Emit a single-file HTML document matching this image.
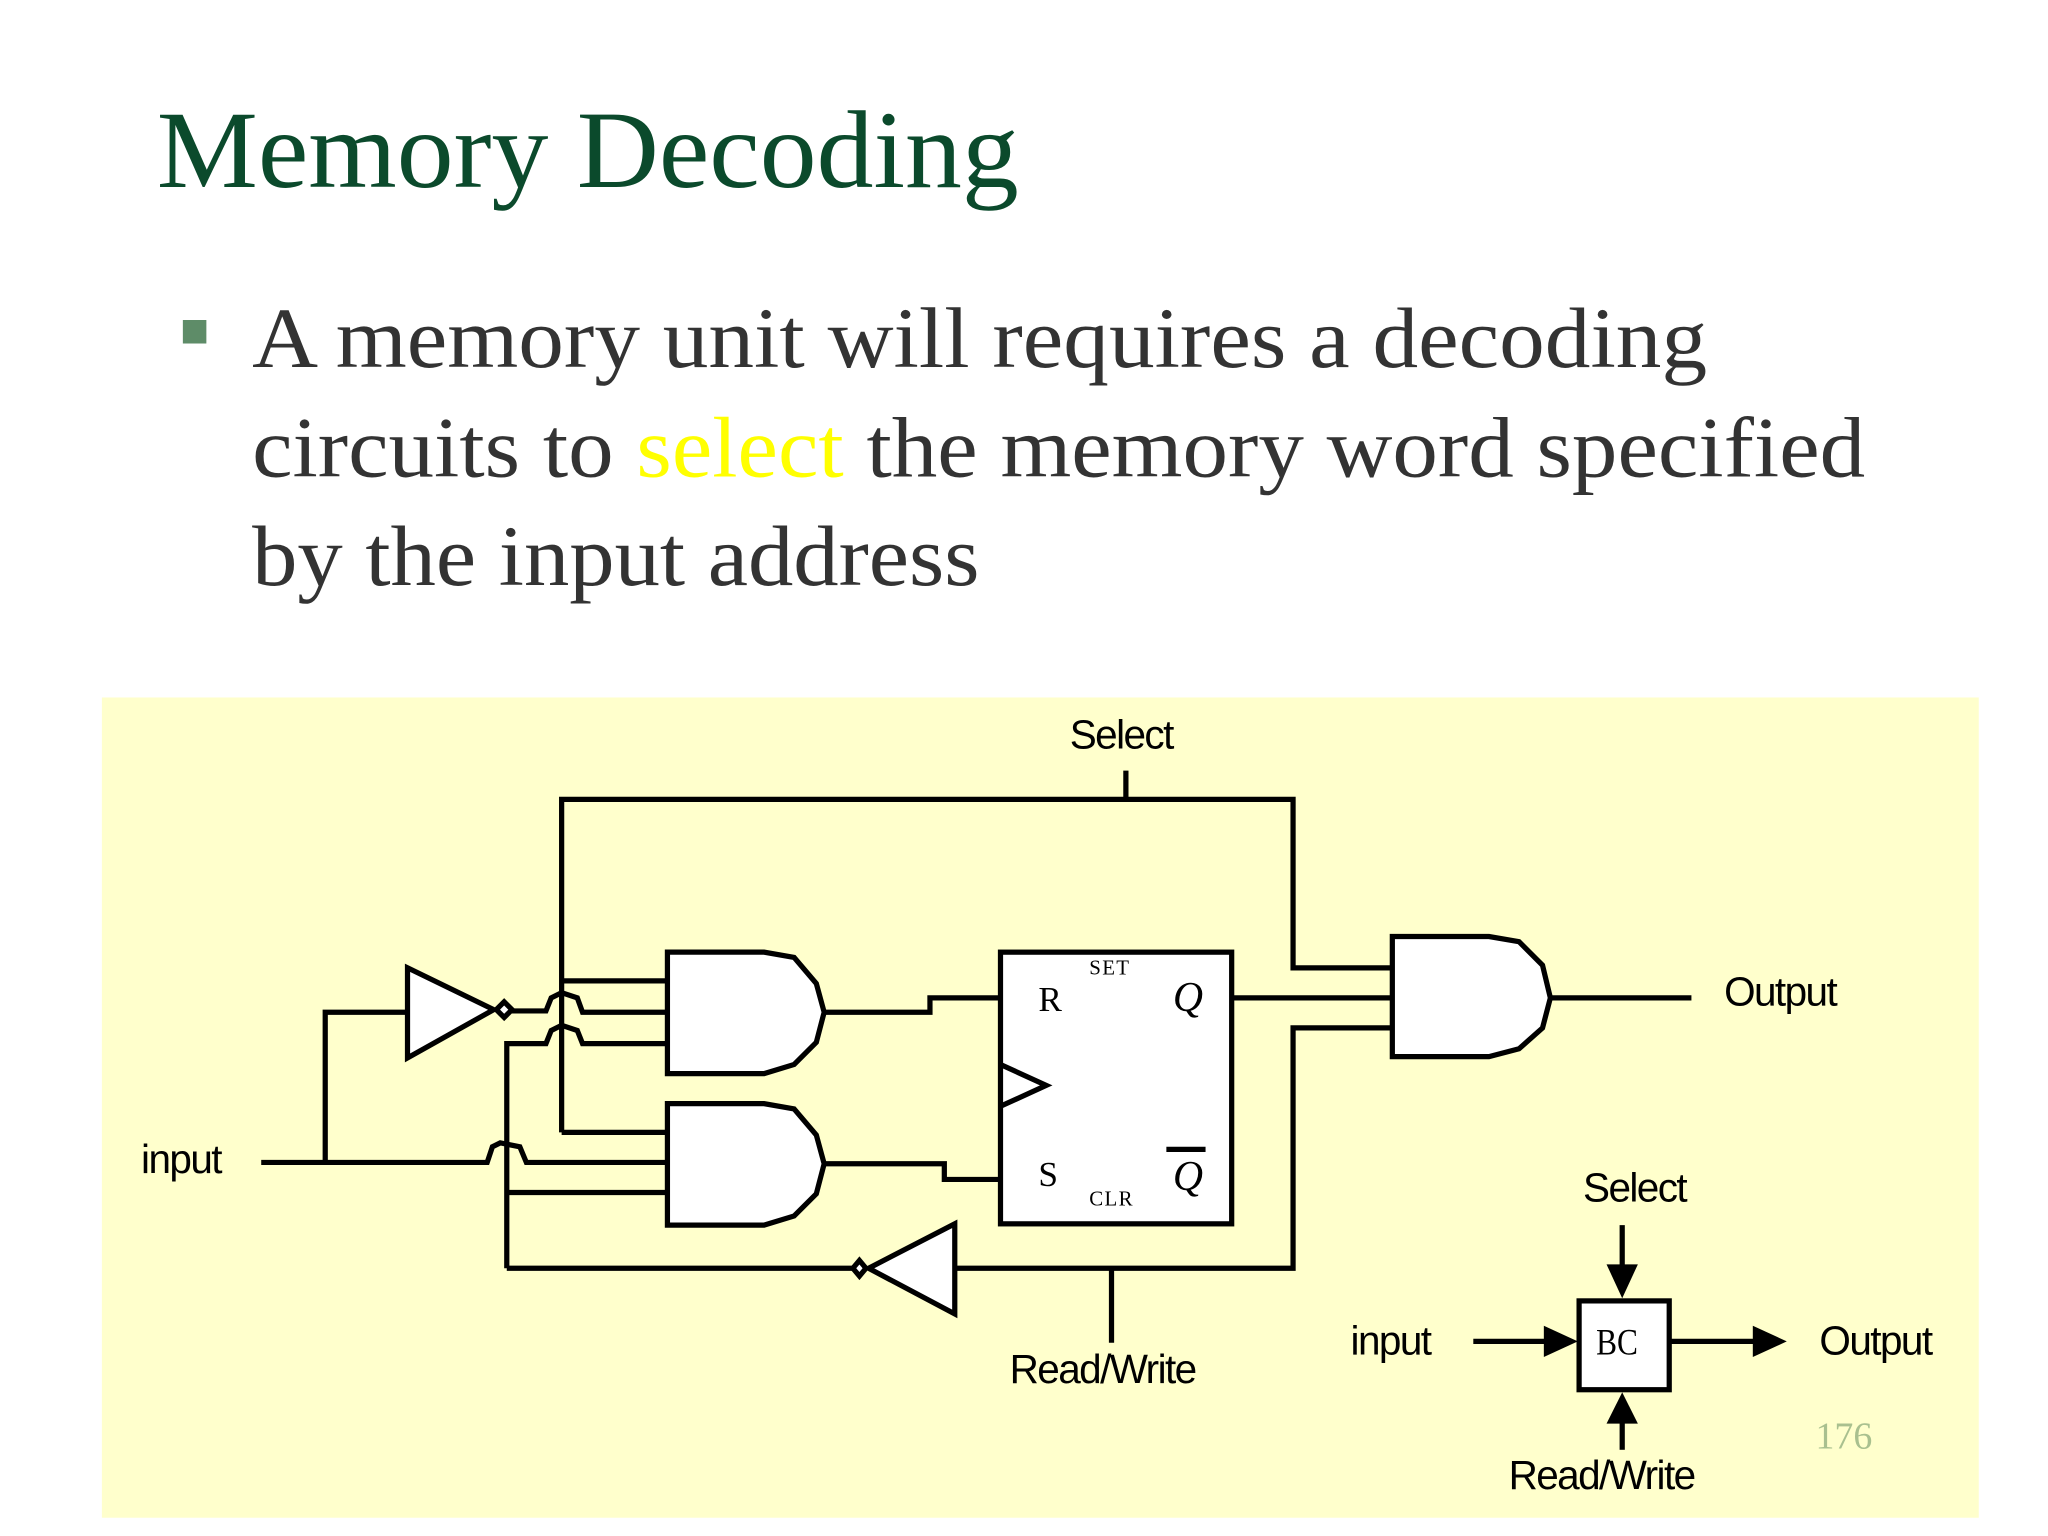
<!DOCTYPE html>
<html><head><meta charset="utf-8"><style>html,body{margin:0;padding:0;background:#fff;}svg{display:block}</style></head>
<body>
<svg width="2048" height="1536" viewBox="0 0 1568 1176" xmlns="http://www.w3.org/2000/svg">
<rect width="1568" height="1176" fill="#fff"/>
<text x="120" y="143" font-family="Liberation Serif, serif" font-size="84" fill="#0b4a2c" textLength="660" lengthAdjust="spacingAndGlyphs">Memory Decoding</text>
<rect x="140" y="245" width="18" height="18" fill="#5e8c68"/>
<g font-family="Liberation Serif, serif" font-size="66" fill="#333">
<text x="193" y="281" textLength="1114" lengthAdjust="spacingAndGlyphs">A memory unit will requires a decoding</text>
<text x="193" y="365" textLength="1235" lengthAdjust="spacingAndGlyphs">circuits to <tspan fill="#ffff00">select</tspan> the memory word specified</text>
<text x="193" y="448" textLength="557" lengthAdjust="spacingAndGlyphs">by the input address</text>
</g>
<rect x="78" y="534" width="1437" height="628" fill="#ffffcc"/>
<g fill="none" stroke="#000" stroke-width="4" stroke-linejoin="miter">
<polyline points="862,590 862,612"/>
<polyline points="430,867 430,612 990,612 990,741 1066,741"/>
<polyline points="430,751 511,751"/>
<polyline points="430,867 511,867"/>
<polyline points="200,890 373,890 377,878 383,875 398,878 403,890 511,890"/>
<polyline points="312,775 249,775 249,890"/>
<polygon points="312,741 312,810 378,773" fill="#fff"/>
<polygon points="380,773 386,767 392,773 386,779" fill="#fff"/>
<polyline points="392,774 418,774 422,764 430,760 442,764 446,775 511,775"/>
<polyline points="388,971 388,799 418,799 422,789 430,785 442,789 446,799 511,799"/>
<polyline points="388,913 511,913"/>
<polyline points="388,971 657,971"/>
<polygon points="731,937 731,1006 665,971" fill="#fff"/>
<polygon points="663,971 658,965 653,971 658,977" fill="#fff"/>
<polyline points="731,971 990,971 990,787 1066,787"/>
<polyline points="851,971 851,1028"/>
<path d="M511,729 L585,729 L608,733 L625,753 L631,775 L625,798 L608,815 L585,822 L511,822 Z" fill="#fff"/>
<path d="M511,845 L585,845 L608,849 L625,869 L631,891 L625,914 L608,931 L585,938 L511,938 Z" fill="#fff"/>
<polyline points="631,775 712,775 712,764 766,764"/>
<polyline points="631,891 723,891 723,903 766,903"/>
<rect x="766" y="729" width="177" height="208" fill="#fff"/>
<polyline points="766,815 801,831 766,847"/>
<polyline points="943,764 1066,764"/>
<line x1="893" y1="880" x2="923" y2="880"/>
<path d="M1066,717 L1140,717 L1163,721 L1181,739 L1187,764 L1181,787 L1163,803 L1140,809 L1066,809 Z" fill="#fff"/>
<polyline points="1187,764 1295,764"/>
<rect x="1209" y="996" width="69" height="68" fill="#fff"/>
<line x1="1242" y1="938" x2="1242" y2="975"/>
<line x1="1128" y1="1027" x2="1188" y2="1027"/>
<line x1="1278" y1="1027" x2="1348" y2="1027"/>
<line x1="1242" y1="1110" x2="1242" y2="1086"/>
</g>
<g fill="#000">
<polygon points="1230,968 1254,968 1242,994"/>
<polygon points="1182,1015 1208,1027 1182,1039"/>
<polygon points="1342,1015 1368,1027 1342,1039"/>
<polygon points="1230,1090 1254,1090 1242,1066"/>
</g>
<g font-family="Liberation Sans, sans-serif" font-size="31" fill="#000" letter-spacing="-1.2">
<text x="819" y="573">Select</text>
<text x="108" y="898">input</text>
<text x="1320" y="770">Output</text>
<text x="773" y="1059">Read/Write</text>
<text x="1212" y="920">Select</text>
<text x="1034" y="1037">input</text>
<text x="1393" y="1037">Output</text>
<text x="1155" y="1140">Read/Write</text>
</g>
<g font-family="Liberation Serif, serif" fill="#000">
<text x="795" y="774" font-size="27">R</text>
<text x="795" y="908" font-size="27">S</text>
<text x="834" y="746" font-size="16" letter-spacing="1">SET</text>
<text x="834" y="923" font-size="16" letter-spacing="1">CLR</text>
<text x="898" y="774" font-size="32" font-style="italic">Q</text>
<text x="898" y="911" font-size="32" font-style="italic">Q</text>
<text x="1222" y="1037" font-size="28" textLength="32" lengthAdjust="spacingAndGlyphs">BC</text>
<text x="1390" y="1109" font-size="29" fill="#a9c08f">176</text>
</g>
</svg>
</body></html>
